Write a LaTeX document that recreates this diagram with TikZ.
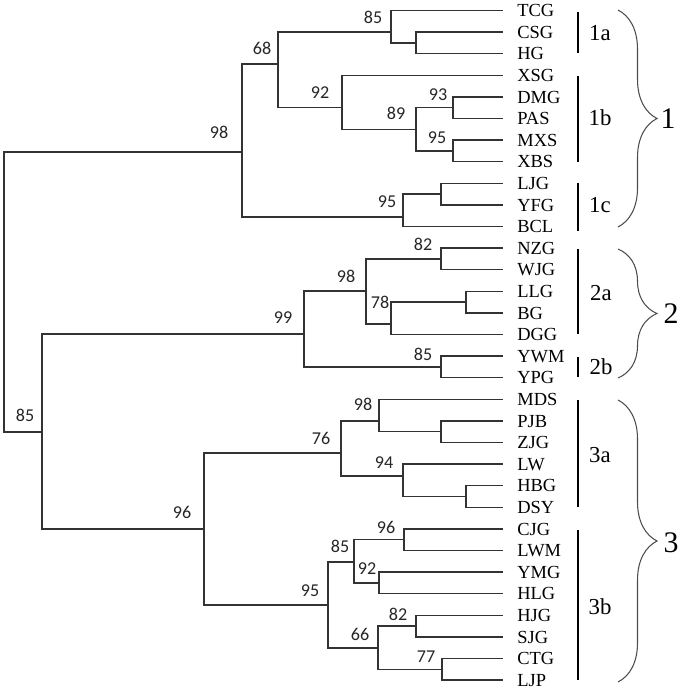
\documentclass[tikz,border=0pt]{standalone}
\usepackage{fontspec}
\setmainfont{Liberation Serif}
\newfontfamily\bootfont{Carlito}
\usetikzlibrary{decorations.pathreplacing}

\begin{document}
\begin{tikzpicture}[x=0.02cm, y=-0.02cm,
  branch/.style={draw=black!80, line width=0.8pt},
  taxon/.style={anchor=west, inner xsep=0.28cm, inner ysep=0pt, text height=7pt, text depth=0pt, font=\fontsize{10.5}{12}\selectfont},
  boot/.style={inner sep=0pt, text height=6.5pt, text depth=0pt, text=black!85, font=\bootfont\fontsize{10.3}{12}\selectfont},
  group/.style={inner sep=0pt, text height=8.6pt, text depth=0pt, font=\fontsize{13}{15}\selectfont},
  clade/.style={inner sep=0pt, text height=11.5pt, text depth=0pt, font=\fontsize{17}{20}\selectfont},
  bar/.style={line width=1.5pt},
  curly/.style={decorate, decoration={brace, amplitude=0.78cm}, draw=black!70, line width=0.6pt}]
\useasboundingbox (0,0) rectangle (681,692);

\node[taxon] (TCG) at (503, 10.5) {TCG};
\node[taxon] (CSG) at (503, 32.1) {CSG};
\node[taxon] (HG) at (503, 53.7) {HG};
\node[taxon] (XSG) at (503, 75.3) {XSG};
\node[taxon] (DMG) at (503, 96.9) {DMG};
\node[taxon] (PAS) at (503, 118.5) {PAS};
\node[taxon] (MXS) at (503, 140.1) {MXS};
\node[taxon] (XBS) at (503, 161.7) {XBS};
\node[taxon] (LJG) at (503, 183.3) {LJG};
\node[taxon] (YFG) at (503, 204.9) {YFG};
\node[taxon] (BCL) at (503, 226.5) {BCL};
\node[taxon] (NZG) at (503, 248.1) {NZG};
\node[taxon] (WJG) at (503, 269.7) {WJG};
\node[taxon] (LLG) at (503, 291.3) {LLG};
\node[taxon] (BG) at (503, 312.9) {BG};
\node[taxon] (DGG) at (503, 334.5) {DGG};
\node[taxon] (YWM) at (503, 356.1) {YWM};
\node[taxon] (YPG) at (503, 377.7) {YPG};
\node[taxon] (MDS) at (503, 399.3) {MDS};
\node[taxon] (PJB) at (503, 420.9) {PJB};
\node[taxon] (ZJG) at (503, 442.5) {ZJG};
\node[taxon] (LW) at (503, 464.1) {LW};
\node[taxon] (HBG) at (503, 485.7) {HBG};
\node[taxon] (DSY) at (503, 507.3) {DSY};
\node[taxon] (CJG) at (503, 528.9) {CJG};
\node[taxon] (LWM) at (503, 550.5) {LWM};
\node[taxon] (YMG) at (503, 572.1) {YMG};
\node[taxon] (HLG) at (503, 593.7) {HLG};
\node[taxon] (HJG) at (503, 615.3) {HJG};
\node[taxon] (SJG) at (503, 636.9) {SJG};
\node[taxon] (CTG) at (503, 658.5) {CTG};
\node[taxon] (LJP) at (503, 680.1) {LJP};

\coordinate (root) at (4, 292);
\coordinate (n98a) at (242, 152);
\coordinate (n68) at (278, 64);
\coordinate (n85a) at (391, 32.1);
\coordinate (nCH) at (416, 42.9);
\coordinate (n92a) at (342, 107.3);
\coordinate (n89) at (416, 129.3);
\coordinate (n93) at (453, 107.7);
\coordinate (n95a) at (453, 150.9);
\coordinate (n95b) at (403, 217);
\coordinate (nLY) at (441, 194.1);
\coordinate (n85b) at (42, 432);
\coordinate (n99) at (304, 334);
\coordinate (n98b) at (366, 291);
\coordinate (n82a) at (441, 258.9);
\coordinate (n78) at (391, 324);
\coordinate (nLB) at (466, 302.1);
\coordinate (n85c) at (441, 366.9);
\coordinate (n96a) at (204, 529);
\coordinate (n76) at (341, 453);
\coordinate (n98c) at (379, 421);
\coordinate (nPZ) at (441, 431.7);
\coordinate (n94) at (403, 476);
\coordinate (nHD) at (466, 496.5);
\coordinate (n95c) at (328, 605);
\coordinate (n85d) at (354, 562);
\coordinate (n96b) at (404, 539.7);
\coordinate (n92b) at (379, 582.9);
\coordinate (n66) at (378, 648);
\coordinate (n82b) at (416, 626.1);
\coordinate (n77) at (442, 669.3);

\draw[branch] (root) |- (n98a) (root) |- (n85b);
\draw[branch] (n98a) |- (n68) (n98a) |- (n95b);
\draw[branch] (n68) |- (n85a) (n68) |- (n92a);
\draw[branch] (n85a) |- (TCG.west) (n85a) |- (nCH);
\draw[branch] (nCH) |- (CSG.west) (nCH) |- (HG.west);
\draw[branch] (n92a) |- (XSG.west) (n92a) |- (n89);
\draw[branch] (n89) |- (n93) (n89) |- (n95a);
\draw[branch] (n93) |- (DMG.west) (n93) |- (PAS.west);
\draw[branch] (n95a) |- (MXS.west) (n95a) |- (XBS.west);
\draw[branch] (n95b) |- (nLY) (n95b) |- (BCL.west);
\draw[branch] (nLY) |- (LJG.west) (nLY) |- (YFG.west);
\draw[branch] (n85b) |- (n99) (n85b) |- (n96a);
\draw[branch] (n99) |- (n98b) (n99) |- (n85c);
\draw[branch] (n98b) |- (n82a) (n98b) |- (n78);
\draw[branch] (n82a) |- (NZG.west) (n82a) |- (WJG.west);
\draw[branch] (n78) |- (nLB) (n78) |- (DGG.west);
\draw[branch] (nLB) |- (LLG.west) (nLB) |- (BG.west);
\draw[branch] (n85c) |- (YWM.west) (n85c) |- (YPG.west);
\draw[branch] (n96a) |- (n76) (n96a) |- (n95c);
\draw[branch] (n76) |- (n98c) (n76) |- (n94);
\draw[branch] (n98c) |- (MDS.west) (n98c) |- (nPZ);
\draw[branch] (nPZ) |- (PJB.west) (nPZ) |- (ZJG.west);
\draw[branch] (n94) |- (LW.west) (n94) |- (nHD);
\draw[branch] (nHD) |- (HBG.west) (nHD) |- (DSY.west);
\draw[branch] (n95c) |- (n85d) (n95c) |- (n66);
\draw[branch] (n85d) |- (n96b) (n85d) |- (n92b);
\draw[branch] (n96b) |- (CJG.west) (n96b) |- (LWM.west);
\draw[branch] (n92b) |- (YMG.west) (n92b) |- (HLG.west);
\draw[branch] (n66) |- (n82b) (n66) |- (n77);
\draw[branch] (n82b) |- (HJG.west) (n82b) |- (SJG.west);
\draw[branch] (n77) |- (CTG.west) (n77) |- (LJP.west);

\node[boot] (l98a) at (219, 133) {98};
\node[boot] (l68) at (262, 49) {68};
\node[boot] (l85a) at (373, 18) {85};
\node[boot] (l92a) at (320, 93) {92};
\node[boot] (l89) at (396, 114) {89};
\node[boot] (l93) at (438, 95) {93};
\node[boot] (l95a) at (437, 138) {95};
\node[boot] (l95b) at (387, 202) {95};
\node[boot] (l85b) at (25, 416) {85};
\node[boot] (l99) at (283, 318) {99};
\node[boot] (l98b) at (346, 277) {98};
\node[boot] (l82a) at (423, 245) {82};
\node[boot] (l78) at (380, 303) {78};
\node[boot] (l85c) at (423, 355) {85};
\node[boot] (l96a) at (182, 513) {96};
\node[boot] (l76) at (321, 439) {76};
\node[boot] (l98c) at (363, 405) {98};
\node[boot] (l94) at (384, 463) {94};
\node[boot] (l95c) at (310, 591) {95};
\node[boot] (l85d) at (340, 547) {85};
\node[boot] (l96b) at (386, 528) {96};
\node[boot] (l92b) at (367, 569) {92};
\node[boot] (l66) at (360, 635) {66};
\node[boot] (l82b) at (398, 615) {82};
\node[boot] (l77) at (426, 657) {77};

\draw[bar] (578, 12) -- (578, 53);
\draw[bar] (578, 76) -- (578, 162);
\draw[bar] (578, 183) -- (578, 231);
\draw[bar] (578, 249) -- (578, 334);
\draw[bar] (578, 357) -- (578, 377);
\draw[bar] (578, 400) -- (578, 507);
\draw[bar] (578, 530) -- (578, 680);
\node[group] (g1a) at (600, 33) {1a};
\node[group] (g1b) at (600, 118) {1b};
\node[group] (g1c) at (600, 205) {1c};
\node[group] (g2a) at (601, 293) {2a};
\node[group] (g2b) at (601, 367) {2b};
\node[group] (g3a) at (600, 455) {3a};
\node[group] (g3b) at (600, 607) {3b};

\draw[curly] (618, 10) -- (618, 227);
\draw[curly] (618, 249) -- (618, 378);
\draw[curly] (618, 400) -- (618, 682);
\node[clade] (c1) at (668, 118) {1};
\node[clade] (c2) at (671, 313) {2};
\node[clade] (c3) at (671, 542) {3};
\end{tikzpicture}
\end{document}
